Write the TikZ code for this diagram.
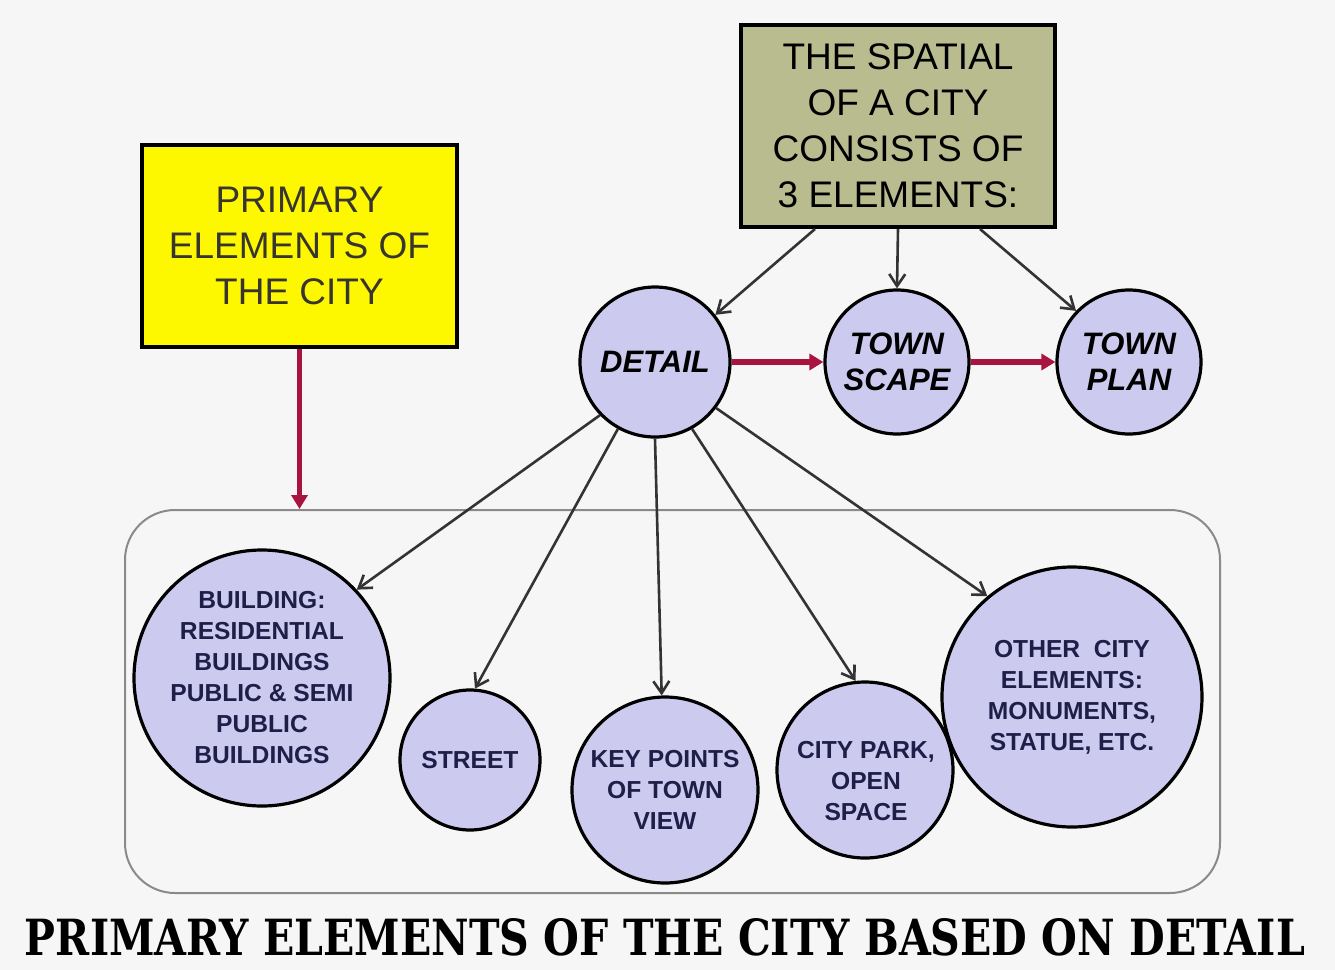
\documentclass[tikz,border=0pt]{standalone}
\usepackage{fontspec}
\setmainfont{Liberation Sans}
\newfontfamily\titlefont{DejaVu Serif}
\usetikzlibrary{arrows.meta,calc}
\definecolor{bg}{HTML}{F6F6F6}
\definecolor{lav}{HTML}{CDCAF0}
\definecolor{navy}{HTML}{1E1E48}
\definecolor{olive}{HTML}{B8BC8E}
\definecolor{yel}{HTML}{FDF700}
\definecolor{crim}{HTML}{A8133F}
\definecolor{arr}{HTML}{333333}
\definecolor{frm}{HTML}{8A8A8A}
\tikzset{
  circ/.style={circle, draw=black, line width=1.6pt, fill=lav, inner sep=0pt,
    align=center, text=navy, font=\fontsize{12.3}{15.5}\selectfont\bfseries},
  topcirc/.style={circ, text=black, font=\fontsize{15.5}{18}\selectfont\bfseries\itshape},
  box/.style={rectangle, draw=black, line width=2pt, inner sep=0pt, align=center,
    font=\fontsize{18.5}{23}\selectfont},
  greyarrow/.style={draw=arr, line width=1.3pt, -{Straight Barb[length=6pt,width=8pt,line width=1.3pt]}},
  redarrow/.style={draw=crim, line width=2.6pt, -{Triangle[length=7pt,width=8pt]}},
}
\begin{document}
\begin{tikzpicture}[x=0.5pt,y=-0.5pt]
\fill[bg] (0,0) rectangle (1335,970);
\useasboundingbox (0,0) rectangle (1335,970);

% frame
\node[draw=frm, line width=1pt, rounded corners=25pt, minimum width=547.5pt,
  minimum height=191.5pt, inner sep=0pt] (frame) at (672.5,701.5) {};

% top boxes
\node[box, fill=yel, text=black!90!yellow, minimum width=157.5pt, minimum height=101pt]
  (primary) at (299.5,246) {PRIMARY\\ELEMENTS OF\\THE CITY};
\node[box, fill=olive, text=black, minimum width=157pt, minimum height=101pt]
  (spatial) at (898,126) {THE SPATIAL\\OF A CITY\\CONSISTS OF\\3 ELEMENTS:};

% upper circles
\node[topcirc, minimum size=75pt] (detail) at (655,362) {DETAIL};
\node[topcirc, minimum size=72pt] (tscape) at (897,362) {TOWN\\SCAPE};
\node[topcirc, minimum size=72pt] (tplan) at (1129,362) {TOWN\\PLAN};

% lower circles
\node[circ, minimum size=128pt] (building) at (262,678)
  {BUILDING:\\RESIDENTIAL\\BUILDINGS\\PUBLIC \& SEMI\\PUBLIC\\BUILDINGS};
\node[circ, minimum size=70pt] (street) at (470,760) {STREET};
\node[circ, minimum size=93pt] (key) at (665,790) {KEY POINTS\\OF TOWN\\VIEW};
\node[circ, minimum size=88pt] (park) at (865,770) {};
\node[align=center, text=navy, font=\fontsize{12.3}{15.5}\selectfont\bfseries, inner sep=0pt]
  (parktext) at (866,781) {CITY PARK,\\OPEN\\SPACE};
\node[circ, minimum size=130pt] (other) at (1072,697) {OTHER\ \ CITY\\ELEMENTS:\\MONUMENTS,\\STATUE, ETC.};

% red arrows
\draw[redarrow] (detail.east) -- (tscape.west);
\draw[redarrow] (tscape.east) -- (tplan.west);
\draw[redarrow] (primary.south) -- (primary.south |- frame.north);

% grey arrows from spatial box
\draw[greyarrow] ([xshift=-41.5pt]spatial.south) -- (detail.38);
\draw[greyarrow] (spatial.south) -- (tscape.north);
\draw[greyarrow] ([xshift=41pt]spatial.south) -- (tplan.136);

% grey arrows from detail
\draw[greyarrow] (detail.-136) -- (building.43);
\draw[greyarrow] (detail.-119) -- (street.86);
\draw[greyarrow] (detail.-90) -- (key.92);
\draw[greyarrow] (detail.-61) -- (park.96);
\draw[greyarrow] (detail.-37) -- (other.130);

% title
\node[inner sep=0pt] (title) at (665,937)
  {\resizebox{640pt}{18.5pt}{\titlefont\bfseries PRIMARY ELEMENTS OF THE CITY BASED ON DETAIL}};
\end{tikzpicture}
\end{document}
